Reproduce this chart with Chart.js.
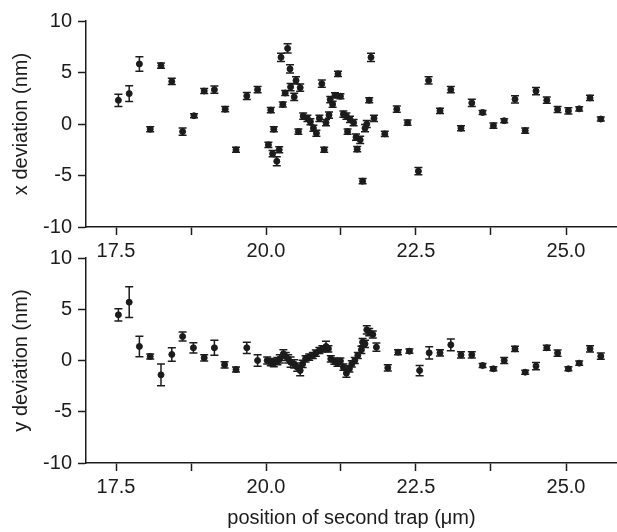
<!DOCTYPE html>
<html>
<head>
<meta charset="utf-8">
<script src="https://cdn.jsdelivr.net/npm/chart.js@4/dist/chart.umd.min.js"></script>
<style>
  body { margin: 0; background: #fff; }
  #wrap { position: relative; width: 617px; height: 532px; overflow: hidden; }
  canvas { position: absolute; left: 0; }
  #topChart { top: 0; }
  #botChart { top: 240px; }
</style>
</head>
<body>
<div id="wrap">
  <canvas id="topChart" width="621" height="268"></canvas>
  <canvas id="botChart" width="621" height="292"></canvas>
</div>
<script>
// x deviation (top panel)
const xPos = [17.54,17.72,17.89,18.07,18.25,18.43,18.61,18.80,18.97,19.14,19.32,19.50,19.68,19.86,
  20.04,20.08,20.11,20.13,20.18,20.22,20.25,20.28,20.32,20.36,20.40,20.41,20.47,20.50,20.54,20.57,
  20.62,20.69,20.74,20.79,20.84,20.89,20.93,20.97,21.00,21.05,21.07,21.11,21.15,21.20,21.24,21.29,
  21.34,21.36,21.40,21.46,21.50,21.52,21.57,21.61,21.65,21.68,21.72,21.75,21.80,21.98,22.18,22.36,
  22.54,22.71,22.90,23.08,23.25,23.43,23.61,23.79,23.97,24.15,24.32,24.50,24.68,24.86,25.04,25.22,
  25.40,25.58];
const xDev = [2.3,2.95,5.83,-0.51,5.67,4.13,-0.74,0.8,3.2,3.33,1.44,-2.5,2.72,3.33,
  -2.02,1.35,-2.88,-0.51,-3.62,-2.5,6.47,1.89,3.01,7.34,5.35,3.59,2.63,4.23,-0.74,3.53,
  0.77,0.55,0.22,-0.41,-0.9,0.55,3.91,-2.5,0.13,0.87,2.37,1.92,2.79,4.87,2.69,0.96,
  0.77,-0.74,0.45,0.13,-1.28,-2.44,-1.54,-5.55,-0.41,0.0,2.31,6.47,0.55,-0.96,1.44,0.13,
  -4.58,4.23,1.28,3.33,-0.41,2.05,1.12,-0.16,0.32,2.4,-0.64,3.2,2.31,1.41,1.28,1.47,
  2.53,0.48];
const xErr = [0.6,0.77,0.7,0.25,0.25,0.3,0.35,0.2,0.25,0.35,0.25,0.25,0.35,0.3,
  0.25,0.25,0.3,0.25,0.43,0.3,0.4,0.25,0.25,0.45,0.4,0.35,0.35,0.35,0.25,0.35,
  0.3,0.3,0.3,0.3,0.3,0.3,0.35,0.25,0.3,0.3,0.3,0.3,0.25,0.25,0.25,0.3,
  0.3,0.25,0.3,0.3,0.3,0.25,0.35,0.25,0.35,0.35,0.25,0.4,0.3,0.25,0.3,0.25,
  0.35,0.35,0.25,0.3,0.25,0.35,0.2,0.25,0.2,0.35,0.25,0.35,0.3,0.3,0.3,0.2,
  0.25,0.2];

// y deviation (bottom panel)
const yPos = [17.54,17.72,17.89,18.07,18.25,18.43,18.61,18.79,18.97,19.14,19.31,19.50,19.68,19.86,
  20.02,20.08,20.13,20.19,20.23,20.29,20.33,20.37,20.41,20.47,20.52,20.57,20.61,20.66,20.72,20.78,
  20.83,20.89,20.94,21.00,21.04,21.08,21.14,21.19,21.24,21.29,21.34,21.39,21.43,21.48,21.53,21.59,
  21.61,21.65,21.68,21.72,21.78,21.84,22.03,22.20,22.39,22.56,22.72,22.90,23.08,23.25,23.43,23.61,
  23.79,23.97,24.15,24.32,24.50,24.68,24.86,25.04,25.22,25.40,25.58];
const yDev = [4.46,5.69,1.37,0.39,-1.4,0.59,2.34,1.24,0.26,1.24,-0.42,-0.88,1.24,0.0,
  0.0,-0.16,-0.26,-0.06,0.16,0.65,0.39,0.16,-0.16,-0.33,-0.65,-0.98,-0.33,0.16,0.33,0.49,
  0.72,0.98,1.14,1.37,1.14,0.16,-0.06,-0.26,-0.06,-0.65,-1.24,-0.81,-0.33,0.0,0.49,1.04,
  1.79,1.63,2.99,2.76,2.54,1.3,-0.72,0.81,0.91,-0.98,0.75,0.75,1.53,0.55,0.55,-0.49,
  -0.81,0.0,1.14,-1.14,-0.55,1.24,0.72,-0.81,-0.26,1.14,0.42];
const yErr = [0.6,1.5,1.0,0.25,1.07,0.66,0.44,0.5,0.3,0.73,0.3,0.25,0.55,0.55,
  0.35,0.35,0.35,0.35,0.4,0.4,0.4,0.4,0.5,0.4,0.4,0.5,0.35,0.3,0.3,0.3,
  0.3,0.3,0.3,0.5,0.3,0.3,0.3,0.3,0.3,0.3,0.4,0.3,0.3,0.3,0.3,0.35,
  0.35,0.35,0.4,0.35,0.35,0.4,0.3,0.25,0.2,0.5,0.6,0.3,0.57,0.3,0.3,0.2,
  0.2,0.3,0.25,0.2,0.35,0.25,0.3,0.2,0.2,0.3,0.3];

const xTicks = [17.5, 18.75, 20, 21.25, 22.5, 23.75, 25];
const xMajor = [17.5, 20, 22.5, 25];
const ink = '#1c1c1c';
const fontFam = '"Liberation Sans", Arial, sans-serif';

// draws the error bars and the short minor ticks of the y axis
const errorBars = {
  id: 'errorBars',
  afterDatasetsDraw(chart) {
    const ctx = chart.ctx;
    const xs = chart.scales.x, ys = chart.scales.y;
    const ds = chart.data.datasets[0];
    ctx.save();
    ctx.strokeStyle = ink;
    ctx.lineWidth = 1.5;
    ds.data.forEach((p, i) => {
      const e = ds.errors[i];
      const px = xs.getPixelForValue(p.x);
      const y1 = ys.getPixelForValue(p.y + e);
      const y2 = ys.getPixelForValue(p.y - e);
      ctx.beginPath();
      ctx.moveTo(px, y1); ctx.lineTo(px, y2);
      ctx.moveTo(px - 4, y1); ctx.lineTo(px + 4, y1);
      ctx.moveTo(px - 4, y2); ctx.lineTo(px + 4, y2);
      ctx.stroke();
    });
    ys.ticks.forEach(t => {
      if (t.value % 5 !== 0) {
        const py = ys.getPixelForValue(t.value);
        ctx.beginPath();
        ctx.moveTo(ys.right - 4, py); ctx.lineTo(ys.right, py);
        ctx.stroke();
      }
    });
    ctx.restore();
  }
};

function makeChart(id, pos, dev, err, yLabel, padTop, xHeight, showTitle) {
  const data = pos.map((v, i) => ({ x: v, y: dev[i] }));
  return new Chart(document.getElementById(id), {
    type: 'scatter',
    data: {
      datasets: [{
        data: data,
        errors: err,
        backgroundColor: ink,
        borderColor: ink,
        pointRadius: 3,
        pointHoverRadius: 3
      }]
    },
    options: {
      responsive: false,
      animation: false,
      layout: { padding: { top: padTop, left: 0, right: 0, bottom: 0 } },
      plugins: { legend: { display: false }, tooltip: { enabled: false } },
      scales: {
        x: {
          type: 'linear',
          min: 17.0,
          max: 25.85,
          afterBuildTicks: s => { s.ticks = xTicks.map(v => ({ value: v })); },
          afterFit: s => { s.height = xHeight; },
          grid: { drawOnChartArea: false, tickLength: 8, tickWidth: 1.5, tickColor: ink },
          border: { color: ink, width: 1.5 },
          ticks: {
            padding: 4,
            color: ink,
            font: { family: fontFam, size: 20 },
            maxRotation: 0,
            autoSkip: false,
            callback: v => xMajor.includes(v) ? v.toFixed(1) : ''
          },
          title: {
            display: showTitle,
            text: 'position of second trap (μm)',
            color: ink,
            font: { family: fontFam, size: 20 },
            padding: { top: 0, bottom: 2 }
          }
        },
        y: {
          min: -10,
          max: 10,
          afterFit: s => { s.width = 86; },
          grid: {
            drawOnChartArea: false,
            tickLength: 8,
            tickWidth: 1.5,
            tickColor: c => (c.tick && c.tick.value % 5 !== 0) ? 'rgba(0,0,0,0)' : ink
          },
          border: { color: ink, width: 1.5 },
          ticks: {
            stepSize: 2.5,
            padding: 6,
            color: ink,
            font: { family: fontFam, size: 20 },
            callback: v => v % 5 === 0 ? String(v) : ''
          },
          title: {
            display: true,
            text: yLabel,
            color: ink,
            font: { family: fontFam, size: 20 },
            padding: { top: 9, bottom: 0 }
          }
        }
      }
    },
    plugins: [errorBars]
  });
}

makeChart('topChart', xPos, xDev, xErr, 'x deviation (nm)', 21, 41, false);
makeChart('botChart', yPos, yDev, yErr, 'y deviation (nm)', 17, 69, true);
</script>
</body>
</html>
